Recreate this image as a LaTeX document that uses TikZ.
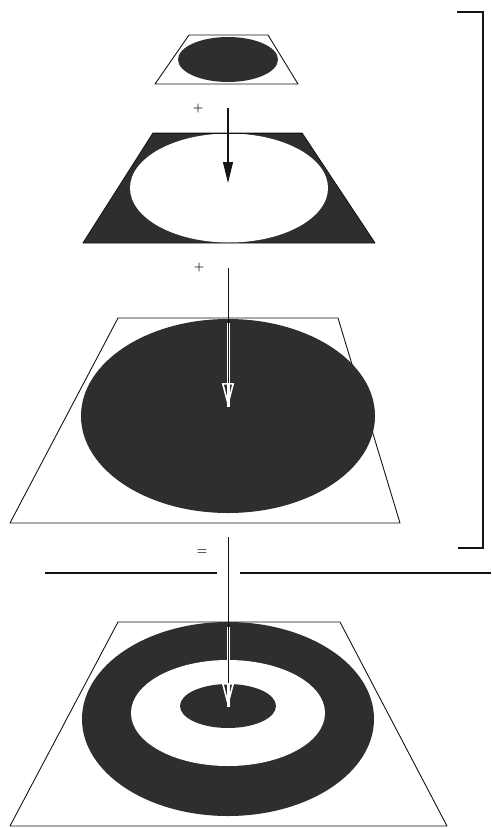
\documentclass[tikz,border=0pt]{standalone}
\usepackage{xcolor}
\usepackage{tikz}
\usetikzlibrary{
  arrows.meta,
  positioning,
  calc
}
\definecolor{lyInk}{HTML}{151515}
\definecolor{lyGrain}{HTML}{2E2E2E}

\begin{document}
\begin{tikzpicture}[x=1pt, y=-1pt,
  plate/.style={draw=lyInk, line width=0.9pt, line join=round},
  grain/.style={fill=lyGrain},
  hole/.style={fill=white},
  sign/.style={font=\large\bfseries, inner sep=1pt},
  solidarrow/.style={draw=lyInk, line width=1.1pt, -{Triangle[length=21pt, width=10pt]}},
  halo/.style={draw=white, line width=3pt},
  openarrow/.style={draw=lyInk, line width=1pt, -{Triangle[open, length=24pt, width=12pt, color=white, line width=1.6pt]}}]
  \useasboundingbox (0,0) rectangle (491,828);

  % plates, top to bottom
  \draw[plate, fill=white] (189,35) -- (268,35) -- (298,84) -- (155,84) -- cycle;
  \fill[grain] (228,59.5) ellipse [x radius=50, y radius=22.5];

  \draw[plate, grain] (153,133) -- (302,133) -- (375,243) -- (83,243) -- cycle;
  \fill[hole] (229,188) ellipse [x radius=99, y radius=54.5];
  \draw[plate] (153,133) -- (302,133);

  \draw[plate, fill=white] (118,318) -- (338,318) -- (400,523) -- (10,523) -- cycle;
  \fill[grain] (228,416) ellipse [x radius=147, y radius=97];

  \draw[plate, fill=white] (118,622) -- (340,622) -- (447,826) -- (10,826) -- cycle;
  \fill[grain] (228,719) ellipse [x radius=146, y radius=97];
  \fill[hole] (228,713) ellipse [x radius=97, y radius=53];
  \fill[grain] (228,706) ellipse [x radius=48, y radius=22];

  % arrow ends
  \coordinate (topA) at (228,108);
  \coordinate (tipA) at (228,183);
  \coordinate (topB) at (228,268);
  \coordinate (tipB) at (228,407);
  \coordinate (topC) at (228,537);
  \coordinate (tipC) at (228,707);

  \node[sign] (plusA) at (198,109) {+};
  \node[sign] (plusB) at (199,268) {+};
  \node[sign] (equal) at (202,552) {=};

  \draw[solidarrow] (topA) -- (tipA);
  \draw[halo] ($(topB)+(0,55)$) -- (tipB);
  \draw[openarrow] (topB) -- (tipB);
  \draw[halo] ($(topC)+(0,90)$) -- (tipC);
  \draw[openarrow] (topC) -- (tipC);

  % bracket and divider
  \draw[lyInk, line width=1.2pt] (457,12) -- (483,12) -- (483,548) -- (458,548);
  \draw[lyInk, line width=1.1pt] (45,573) -- (217,573);
  \draw[lyInk, line width=1.1pt] (240,573) -- (491,573);
\end{tikzpicture}
\end{document}
